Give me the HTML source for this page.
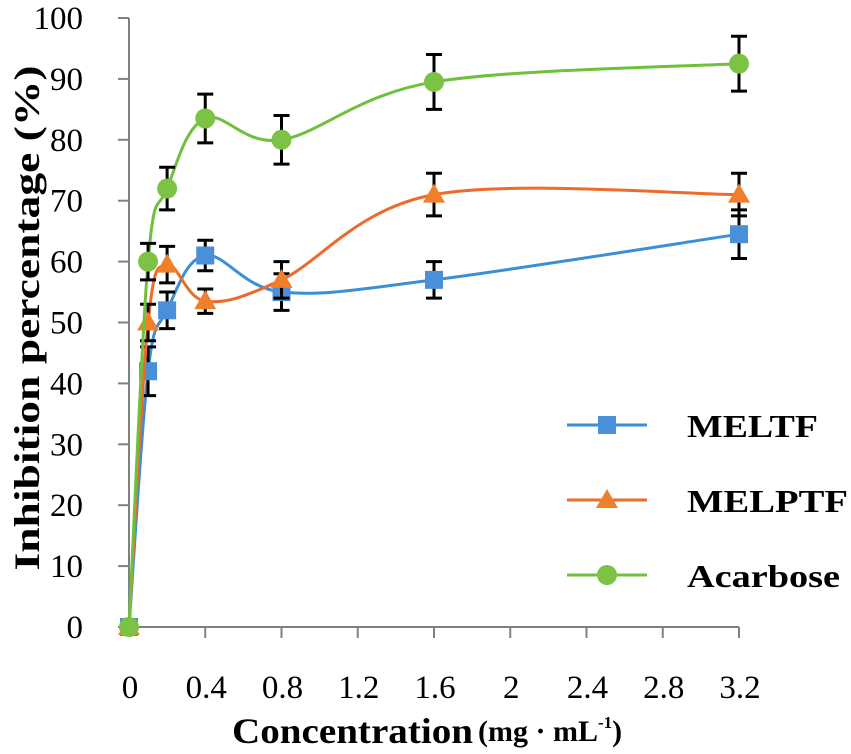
<!DOCTYPE html>
<html><head><meta charset="utf-8"><style>
html,body{margin:0;padding:0;background:#fff;}
svg{display:block;font-family:"Liberation Serif",serif;}
</style></head><body>
<svg id="chart" width="851" height="754" viewBox="0 0 851 754" xmlns="http://www.w3.org/2000/svg">
<g id="axes"></g>
<g id="series"></g>
<g id="legend"></g>
<text transform="translate(39,318) rotate(-90)" text-anchor="middle" font-size="36" font-weight="bold" textLength="505" lengthAdjust="spacingAndGlyphs">Inhibition percentage (%)</text>
<text x="232" y="743" font-size="36" font-weight="bold" textLength="241" lengthAdjust="spacingAndGlyphs">Concentration</text>
<text x="478" y="741" font-weight="bold"><tspan font-size="30">(mg · mL</tspan><tspan font-size="17" dy="-13">-1</tspan><tspan font-size="30" dy="13">)</tspan></text>
</svg>
<script>
const xValues = [0, 0.1, 0.2, 0.4, 0.8, 1.6, 3.2];
const meltf = [0, 42, 52, 61, 55, 57, 64.5];
const meltfErr = [0, 4, 3, 2.5, 3, 3, 4];
const melptf = [0, 50, 59.5, 53.5, 57, 71, 71];
const melptfErr = [0, 3, 3, 2, 3, 3.5, 3.5];
const acarbose = [0, 60, 72, 83.5, 80, 89.5, 92.5];
const acarboseErr = [0, 3, 3.5, 4, 4, 4.5, 4.5];
const xTicks = [0, 0.4, 0.8, 1.2, 1.6, 2, 2.4, 2.8, 3.2];
const xTickLabels = ["0","0.4","0.8","1.2","1.6","2","2.4","2.8","3.2"];
const yTicks = [0,10,20,30,40,50,60,70,80,90,100];

const NS = "http://www.w3.org/2000/svg";
const X0 = 129, X1 = 739, Y0 = 627, Y1 = 18;
const xs = v => X0 + (v / 3.2) * (X1 - X0);
const ys = v => Y0 - (v / 100) * (Y0 - Y1);
function mk(tag, attrs, parent) {
  const e = document.createElementNS(NS, tag);
  for (const k in attrs) e.setAttribute(k, attrs[k]);
  parent.appendChild(e);
  return e;
}
const axes = document.getElementById('axes');
let el = mk('line', {x1: X0, y1: Y1, x2: X0, y2: Y0, stroke: '#808080', 'stroke-width': 2}, axes);


el = mk('line', {x1: X0, y1: Y0, x2: X1, y2: Y0, stroke: '#808080', 'stroke-width': 2}, axes);


yTicks.forEach(t => {
  const y = ys(t);
  const tk = mk('line', {x1: X0 - 11, y1: y, x2: X0, y2: y, stroke: '#808080', 'stroke-width': 2}, axes);
  
  
  const tl = mk('text', {x: 83, y: y + 11, 'text-anchor': 'end', 'font-size': 33}, axes);
  tl.textContent = t;
  
  
});
xTicks.forEach((t, i) => {
  const x = xs(t);
  if (i > 0) {
    const tk = mk('line', {x1: x, y1: Y0, x2: x, y2: Y0 + 11, stroke: '#808080', 'stroke-width': 2}, axes);
    
    
  }
  const tl = mk('text', {x: x + 1, y: 698, 'text-anchor': 'middle', 'font-size': 33}, axes);
  tl.textContent = xTickLabels[i];
  
  
});

function smoothPath(pts) {
  let d = `M${pts[0][0]},${pts[0][1]}`;
  for (let i = 0; i < pts.length - 1; i++) {
    const p0 = pts[Math.max(0, i - 1)], p1 = pts[i], p2 = pts[i + 1], p3 = pts[Math.min(pts.length - 1, i + 2)];
    const t = 0.17;
    const c1 = [p1[0] + (p2[0] - p0[0]) * t, p1[1] + (p2[1] - p0[1]) * t];
    const c2 = [p2[0] - (p3[0] - p1[0]) * t, p2[1] - (p3[1] - p1[1]) * t];
    d += ` C${c1[0]},${c1[1]} ${c2[0]},${c2[1]} ${p2[0]},${p2[1]}`;
  }
  return d;
}
const seriesG = document.getElementById('series');
const defs = [
  {name: 'meltf', vals: meltf, err: meltfErr, color: '#3a8fd6', fill: '#4a90d9', marker: 'square'},
  {name: 'melptf', vals: melptf, err: melptfErr, color: '#ee6a2a', fill: '#f07f2c', marker: 'triangle'},
  {name: 'acarbose', vals: acarbose, err: acarboseErr, color: '#6fc03c', fill: '#7cc244', marker: 'circle'}
];
function marker(type, x, y, fill, parent) {
  let m;
  if (type === 'square') m = mk('rect', {x: x - 9, y: y - 9, width: 18, height: 18, fill: fill}, parent);
  else if (type === 'triangle') m = mk('polygon', {points: `${x},${y - 11} ${x + 11},${y + 8} ${x - 11},${y + 8}`, fill: fill}, parent);
  else m = mk('circle', {cx: x, cy: y, r: 10, fill: fill}, parent);
  return m;
}
defs.forEach(s => {
  const g = mk('g', {}, seriesG);
  
  
  const pts = xValues.map((v, i) => [xs(v), ys(s.vals[i])]);
  const p = mk('path', {d: smoothPath(pts), fill: 'none', stroke: s.color, 'stroke-width': 3}, g);
  
  
  xValues.forEach((v, i) => {
    if (s.err[i] > 0) {
      const x = xs(v), yt = ys(s.vals[i] + s.err[i]), yb = ys(s.vals[i] - s.err[i]);
      const e = mk('path', {d: `M${x},${yt}V${yb}M${x - 8},${yt}H${x + 8}M${x - 8},${yb}H${x + 8}`, stroke: '#000', 'stroke-width': 3, fill: 'none'}, g);
      
      
    }
    const m = marker(s.marker, xs(v), ys(s.vals[i]), s.fill, g);
    
    
  });
});
const legendG = document.getElementById('legend');
const legendLabels = ['MELTF', 'MELPTF', 'Acarbose'];
const legendY = [425, 500, 575];
const legendLen = [131, 161, 153];
defs.forEach((s, i) => {
  const g = mk('g', {}, legendG);
  
  
  mk('line', {x1: 567, y1: legendY[i], x2: 647, y2: legendY[i], stroke: s.color, 'stroke-width': 3}, g);
  marker(s.marker, 607, legendY[i], s.fill, g);
  const t = mk('text', {x: 687, y: legendY[i] + 12, 'font-size': 32, 'font-weight': 'bold', textLength: legendLen[i], lengthAdjust: 'spacingAndGlyphs'}, g);
  t.textContent = legendLabels[i];
});
</script>
</body></html>
